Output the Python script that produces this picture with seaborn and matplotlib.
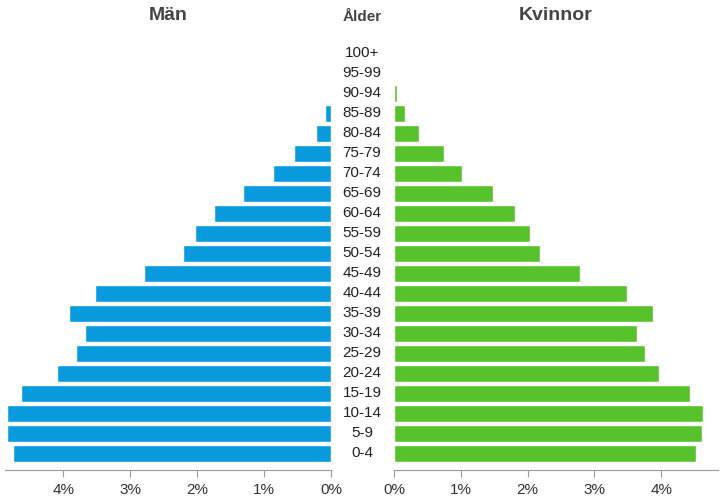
import matplotlib
matplotlib.use('Agg')
import matplotlib.pyplot as plt
import seaborn as sns
import pandas as pd

ages = ['0-4', '5-9', '10-14', '15-19', '20-24', '25-29', '30-34', '35-39', '40-44',
        '45-49', '50-54', '55-59', '60-64', '65-69', '70-74', '75-79', '80-84',
        '85-89', '90-94', '95-99', '100+']
men = [4.75, 4.84, 4.84, 4.63, 4.09, 3.81, 3.67, 3.91, 3.52, 2.79, 2.21, 2.03, 1.75,
       1.31, 0.87, 0.55, 0.22, 0.09, 0.015, 0.003, 0.0]
women = [4.52, 4.61, 4.63, 4.43, 3.96, 3.75, 3.64, 3.87, 3.49, 2.79, 2.19, 2.04, 1.81,
         1.48, 1.02, 0.75, 0.37, 0.16, 0.04, 0.005, 0.0]
ticks = [0, 1, 2, 3, 4]

order = ages[::-1]
df = pd.DataFrame({'age': ages, 'men': men, 'women': women})

sns.set_style('white')
plt.rcParams['font.family'] = ['Liberation Sans', 'DejaVu Sans']
fig = plt.figure(figsize=(7.21, 5.01), dpi=100)
W, H = 721, 501
bottom, top = 470, 40
ax_l = fig.add_axes([5 / W, 1 - bottom / H, (331 - 5) / W, (bottom - top) / H])
ax_r = fig.add_axes([394 / W, 1 - bottom / H, (718 - 394) / W, (bottom - top) / H])

sns.barplot(data=df, y='age', x='men', order=order, orient='h', color='#0a9ade',
            saturation=1, width=0.85, ax=ax_l)
sns.barplot(data=df, y='age', x='women', order=order, orient='h', color='#58c22c',
            saturation=1, width=0.85, ax=ax_r)

ax_l.set_xlim(4.87, 0)
ax_r.set_xlim(0, 4.85)
for ax in (ax_l, ax_r):
    ax.set_ylim(20.85, -0.65)
    ax.set_xticks(ticks)
    ax.set_xticklabels([f'{t}%' for t in ticks], fontsize=11, color='#333333')
    ax.set_yticks([])
    ax.set_xlabel('')
    ax.set_ylabel('')
    for s in ('top', 'left', 'right'):
        ax.spines[s].set_visible(False)
    ax.spines['bottom'].set_color('#999999')
    ax.tick_params(axis='x', length=5, color='#999999', bottom=True, pad=4)

# age labels centred between the two panels
for i, a in enumerate(order):
    ax_l.annotate(a, xy=(1, i), xycoords=('axes fraction', 'data'),
                  xytext=(31, 0), textcoords='offset pixels',
                  ha='center', va='center', fontsize=11, color='#222222')

fig.text(168 / W, 1 - 15 / H, 'Män', ha='center', va='center', fontsize=14,
         fontweight='bold', color='#444444')
fig.text(556 / W, 1 - 15 / H, 'Kvinnor', ha='center', va='center', fontsize=14,
         fontweight='bold', color='#444444')
fig.text(362 / W, 1 - 17 / H, 'Ålder', ha='center', va='center', fontsize=11,
         fontweight='bold', color='#444444')

fig.savefig('out.png', dpi=100)
